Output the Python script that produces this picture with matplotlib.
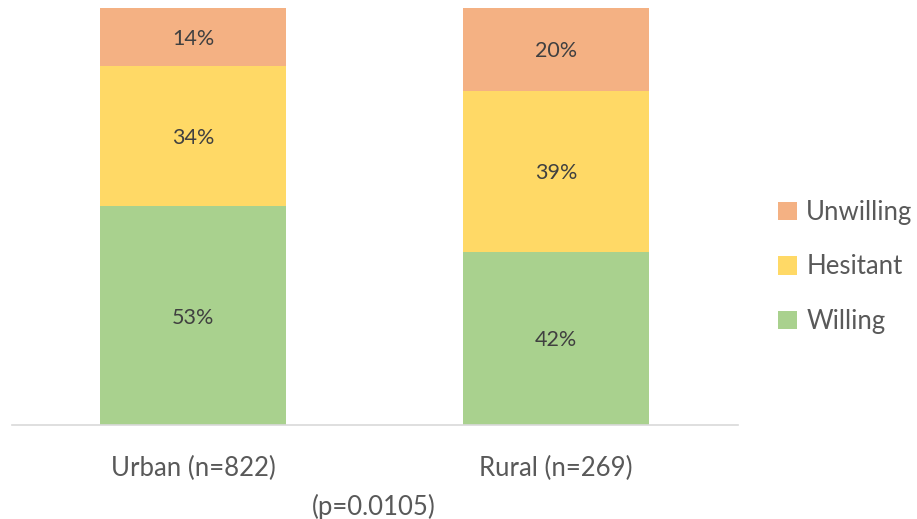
import numpy as np
import matplotlib.pyplot as plt

plt.rcParams['font.family'] = ['Lato', 'DejaVu Sans']

groups = ['Urban (n=822)', 'Rural (n=269)']
willing = [53, 42]
hesitant = [34, 39]
unwilling = [14, 20]
series = [('Willing', willing, '#A9D18E'),
          ('Hesitant', hesitant, '#FFD966'),
          ('Unwilling', unwilling, '#F4B183')]

fig = plt.figure(figsize=(9.17, 5.19), dpi=100)
ax = fig.add_axes([11.5/917, 1-425/519, 726/917, 417/519])

x = np.arange(len(groups))
totals = np.array(willing) + np.array(hesitant) + np.array(unwilling)
bottom = np.zeros(len(groups))
handles = []
for name, vals, col in series:
    h = np.array(vals) / totals * 100
    b = ax.bar(x, h, 0.512, bottom=bottom, color=col, label=name)
    handles.append(b)
    for xi, bi, hi, v in zip(x, bottom, h, vals):
        ax.text(xi, bi + hi/2, f'{v}%', ha='center', va='center_baseline',
                fontsize=15.5, color='#404040')
    bottom += h

ax.set_xlim(-0.5, 1.5)
ax.set_ylim(0, 100)
ax.set_yticks([])
ax.set_xticks(x)
ax.set_xticklabels(groups, fontsize=18.5, color='#595959')
ax.tick_params(axis='x', length=0, pad=22)
for s in ['top', 'right', 'left']:
    ax.spines[s].set_visible(False)
ax.spines['bottom'].set_color('#D9D9D9')
ax.spines['bottom'].set_linewidth(1.2)

fig.text(374/917, 1-507/519, '(p=0.0105)', ha='center', va='center', fontsize=18.5, color='#595959')

leg = fig.legend(handles[::-1], [s[0] for s in series][::-1], loc='center left',
                 bbox_to_anchor=(778/917, 1-267/519), frameon=False, fontsize=18.5,
                 labelcolor='#595959', handlelength=0.75, handleheight=0.75,
                 handletextpad=0.35, labelspacing=1.15, borderpad=0, borderaxespad=0)

fig.savefig('out.png', dpi=100)
